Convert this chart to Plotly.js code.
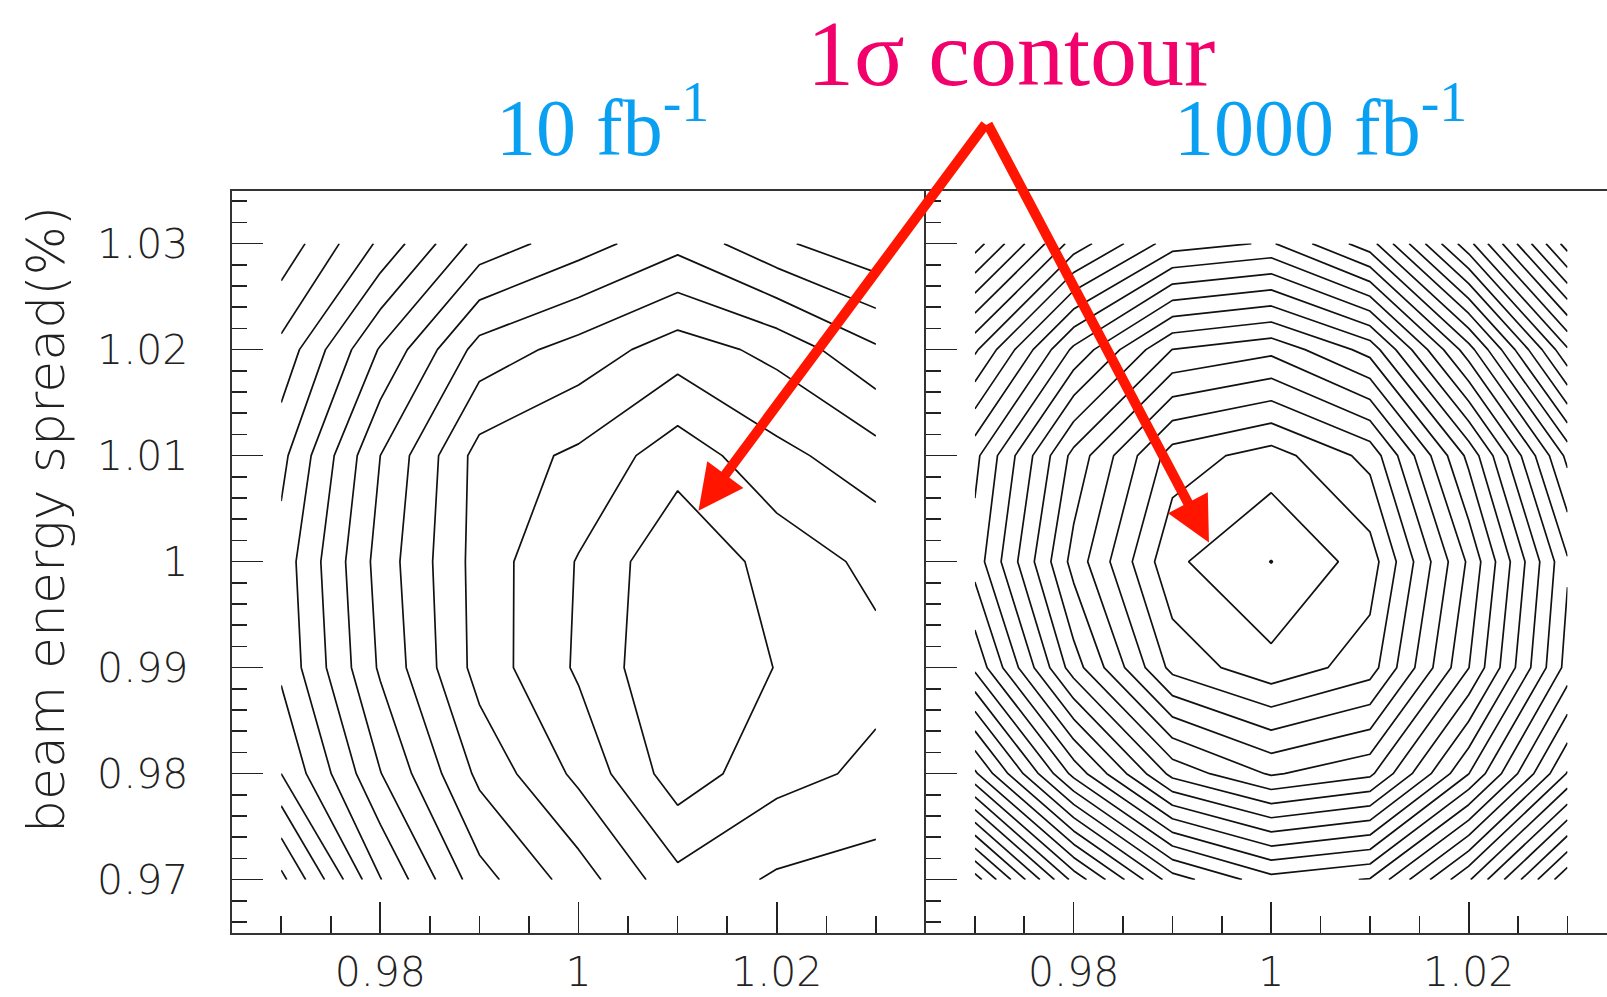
<!DOCTYPE html>
<html>
<head>
<meta charset="utf-8">
<script src="https://cdn.plot.ly/plotly-3.0.1.min.js"></script>
<style>
  html, body { margin: 0; padding: 0; background: #ffffff; }
  #chart { width: 1607px; height: 997px; }
</style>
</head>
<body>
<div id="chart"></div>
<script>
// ---- data ----
// grid nodes (beam energy in x, beam energy spread in % in y)
const GRID_X = [0.97, 0.98, 0.99, 1.00, 1.01, 1.02, 1.03];
const GRID_Y = [0.97, 0.98, 0.99, 1.00, 1.01, 1.02, 1.03];

// fit surface (in units of the contour step), rows = GRID_Y, cols = GRID_X
const Z_10FB = [
  [15.3, 10.05, 6.38, 4.50, 2.30, 3.15, 3.48],
  [12.0,  8.04, 4.75, 2.75, 0.45, 1.65, 2.22],
  [10.8,  6.85, 3.60, 1.85, 0.00, 1.04, 1.70],
  [10.6,  6.60, 3.57, 1.93, 0.155, 1.40, 2.26],
  [11.3,  7.00, 3.60, 2.80, 1.42, 2.71, 3.58],
  [12.7,  8.90, 5.60, 4.60, 3.48, 4.30, 5.85],
  [14.7, 11.80, 8.60, 7.45, 6.30, 7.80, 8.80]
];
const Z_1000FB = [
  [27.5, 20.7, 15.5, 13.4, 14.1, 18.9, 24.8],
  [19.2, 12.7,  7.7,  5.9,  6.8, 12.0, 18.1],
  [13.8,  7.5,  2.7,  1.32, 2.54, 8.0, 14.4],
  [11.6,  5.65, 1.22, 0.00, 1.50, 7.2, 13.9],
  [12.3,  6.7,  2.55, 1.57, 3.35, 9.3, 16.3],
  [16.2, 10.8,  7.0,  6.3,  8.4, 14.6, 21.9],
  [21.5, 16.6, 13.5, 12.9, 15.6, 21.7, 28.5]
];

// contour levels
const LEVELS_10FB   = { start: 1.0,  end: 20, size: 1 };
const LEVELS_1000FB = { start: 0.02, end: 40, size: 1 };

// text
const Y_TITLE = 'beam energy spread(%)';
const PANEL_LABELS = ['10 fb<sup>-1</sup>', '1000 fb<sup>-1</sup>'];
const HEADLINE = '1\u03c3 contour';
// points the arrows indicate (1 sigma contours), [x, y] in each panel
const ARROW_TARGETS = [[1.0121, 1.0048], [0.9937, 1.0018]];

// ---- drawing ----
const lineStyle = { color: '#111111', width: 1.7, smoothing: 0 };

const traces = [
  {
    type: 'contour', x: GRID_X, y: GRID_Y, z: Z_10FB,
    xaxis: 'x', yaxis: 'y',
    autocontour: false, contours: Object.assign({ coloring: 'none', showlabels: false }, LEVELS_10FB),
    line: lineStyle, showscale: false, hoverinfo: 'skip'
  },
  {
    type: 'contour', x: GRID_X, y: GRID_Y, z: Z_1000FB,
    xaxis: 'x2', yaxis: 'y2',
    autocontour: false, contours: Object.assign({ coloring: 'none', showlabels: false }, LEVELS_1000FB),
    line: lineStyle, showscale: false, hoverinfo: 'skip'
  }
];

const W = 1607, H = 997;
const SANS = '"DejaVu Sans ExtraLight", "DejaVu Sans", sans-serif';
const SERIF = '"Liberation Serif", "Times New Roman", serif';
const tickFont = { family: SANS, size: 41, color: '#222222', weight: 200 };

function xAxis(domain, range, anchor) {
  return {
    domain: domain, range: range, anchor: anchor,
    tick0: 0.98, dtick: 0.02, ticks: 'inside', ticklen: 31, tickwidth: 1.6, tickcolor: '#222',
    minor: { tick0: 0.97, dtick: 0.005, ticks: 'inside', ticklen: 17, tickwidth: 1.6, tickcolor: '#222', showgrid: false },
    showline: true, linecolor: '#333', linewidth: 2, mirror: true,
    showgrid: false, zeroline: false, tickfont: tickFont, ticklabelstandoff: 2,
    fixedrange: true
  };
}
function yAxis(domain, anchor, labels) {
  return {
    domain: domain, range: [0.965, 1.035], anchor: anchor,
    tick0: 1, dtick: 0.01, ticks: 'inside', ticklen: 31, tickwidth: 1.6, tickcolor: '#222',
    minor: { tick0: 1, dtick: 0.002, ticks: 'inside', ticklen: 15, tickwidth: 1.6, tickcolor: '#222', showgrid: false },
    showline: true, linecolor: '#333', linewidth: 2, mirror: false,
    showgrid: false, zeroline: false, showticklabels: labels, tickfont: tickFont, ticklabelstandoff: 33,
    fixedrange: true
  };
}

const yDom = [(H - 932.7) / H, (H - 190.6) / H];
const leftDom = [231.6 / W, 925.5 / W];
const rightDom = [925.5 / W, 1.0];

const layout = {
  width: W, height: H,
  margin: { l: 0, r: 0, t: 0, b: 0, pad: 0 },
  paper_bgcolor: '#ffffff', plot_bgcolor: 'rgba(0,0,0,0)',
  showlegend: false,
  font: { family: SANS },
  xaxis: xAxis(leftDom, [0.965, 1.035], 'y'),
  yaxis: yAxis(yDom, 'x', true),
  xaxis2: xAxis(rightDom, [0.965, 1.0340], 'y2'),
  yaxis2: yAxis(yDom, 'x2', false),
  annotations: [
    // y-axis title (placed as rotated text to sit where the reference has it)
    { text: Y_TITLE, xref: 'paper', yref: 'paper', x: 46 / W, y: 1 - 520 / H, xanchor: 'center', yanchor: 'middle',
      textangle: -90, showarrow: false, font: { family: SANS, size: 52, color: '#222222', weight: 200 } },
    { text: HEADLINE, xref: 'paper', yref: 'paper', x: 1011 / W, y: 1, xanchor: 'center', yanchor: 'top',
      showarrow: false, borderpad: 0, font: { family: SERIF, size: 94, color: '#F2006B' } },
    { text: PANEL_LABELS[0], xref: 'paper', yref: 'paper', x: 602 / W, y: 1 - 121 / H, xanchor: 'center', yanchor: 'middle',
      showarrow: false, font: { family: SERIF, size: 80, color: '#0AA0F2' } },
    { text: PANEL_LABELS[1], xref: 'paper', yref: 'paper', x: 1320 / W, y: 1 - 121 / H, xanchor: 'center', yanchor: 'middle',
      showarrow: false, font: { family: SERIF, size: 80, color: '#0AA0F2' } },
    { text: '', xref: 'x', yref: 'y', x: ARROW_TARGETS[0][0], y: ARROW_TARGETS[0][1], ax: 288, ay: -388,
      showarrow: true, arrowhead: 2, arrowsize: 0.9, arrowwidth: 10, arrowcolor: '#FF1500', standoff: 0 },
    { text: '', xref: 'x2', yref: 'y2', x: ARROW_TARGETS[1][0], y: ARROW_TARGETS[1][1], ax: -222, ay: -420,
      showarrow: true, arrowhead: 2, arrowsize: 0.9, arrowwidth: 10, arrowcolor: '#FF1500', standoff: 0 }
  ]
};

Plotly.newPlot('chart', traces, layout, { staticPlot: true, displayModeBar: false });
</script>
</body>
</html>
